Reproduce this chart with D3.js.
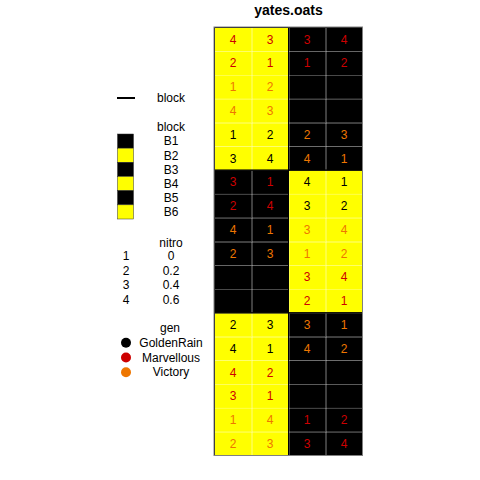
<!DOCTYPE html>
<html><head><meta charset="utf-8">
<script src="https://cdn.jsdelivr.net/npm/d3@7"></script>
<style>body{margin:0;background:#fff}svg{display:block;font-family:"Liberation Sans",Arial,sans-serif}</style>
</head><body><svg id="c" width="480" height="480"></svg>
<script>
// ---- data ----
const title = "yates.oats";
const colIds = [1, 2, 3, 4];
const rowIds = [1,2,3,4,5,6,7,8,9,10,11,12,13,14,15,16,17,18];
const blocks = ["B1", "B2", "B3", "B4", "B5", "B6"];
const blockFill = ["#000000", "#FFFF00", "#000000", "#FFFF00", "#000000", "#FFFF00"];
const genLevels = ["GoldenRain", "Marvellous", "Victory"];
const genColors = ["#000000", "#CD0000", "#EE7600"];
const nitroCodes = ["1", "2", "3", "4"];
const nitroLevels = ["0", "0.2", "0.4", "0.6"];
// per grid row (top to bottom), one entry per column
const blockByRow = [
  "B2 B2 B1 B1","B2 B2 B1 B1","B2 B2 B1 B1","B2 B2 B1 B1","B2 B2 B1 B1","B2 B2 B1 B1",
  "B3 B3 B4 B4","B3 B3 B4 B4","B3 B3 B4 B4","B3 B3 B4 B4","B3 B3 B4 B4","B3 B3 B4 B4",
  "B6 B6 B5 B5","B6 B6 B5 B5","B6 B6 B5 B5","B6 B6 B5 B5","B6 B6 B5 B5","B6 B6 B5 B5"];
const nitroByRow = [
  "4 3 3 4","2 1 1 2","1 2 1 4","4 3 2 3","1 2 2 3","3 4 4 1",
  "3 1 4 1","2 4 3 2","4 1 3 4","2 3 1 2","1 3 3 4","2 4 2 1",
  "2 3 3 1","4 1 4 2","4 2 3 1","3 1 2 4","1 4 1 2","2 3 3 4"];
const genByRow = [
  "M M M M","M M M M","V V G G","V V G G","G G V V","G G V V",
  "M M G G","M M G G","V V V V","V V V V","G G M M","G G M M",
  "G G V V","G G V V","M M G G","M M G G","V V M M","V V M M"];

// ---- build plots ----
const genIdx = {G: 0, M: 1, V: 2};
const plots = [];
rowIds.forEach((r, i) => {
  const b = blockByRow[i].split(" "), n = nitroByRow[i].split(" "), g = genByRow[i].split(" ");
  colIds.forEach((c, j) => plots.push({row: r, col: c, block: b[j], nitro: n[j], gen: genLevels[genIdx[g[j]]]}));
});

const svg = d3.select("#c");
const x = d3.scaleBand().domain(colIds).range([214.5, 362.5]);
const y = d3.scaleBand().domain(rowIds).range([27.5, 455.5]);
const fill = d3.scaleOrdinal().domain(blocks).range(blockFill);
const gcol = d3.scaleOrdinal().domain(genLevels).range(genColors);

// title
svg.append("text").attr("x", (x.range()[0] + x.range()[1]) / 2).attr("y", 15)
  .attr("text-anchor", "middle").attr("font-weight", "bold").attr("font-size", 14).text(title);

// cells
svg.append("g").selectAll("rect").data(plots).join("rect")
  .attr("x", d => x(d.col)).attr("y", d => y(d.row))
  .attr("width", x.bandwidth()).attr("height", y.bandwidth())
  .attr("fill", d => fill(d.block));

// seams (antialias gaps between cells)
const seams = svg.append("g").attr("stroke", "#fff").attr("stroke-opacity", 0.25).attr("stroke-width", 1);
colIds.slice(1).forEach(c => seams.append("line").attr("x1", Math.round(x(c)) + 0.5).attr("x2", Math.round(x(c)) + 0.5)
  .attr("y1", y.range()[0]).attr("y2", y.range()[1]));
rowIds.slice(1).forEach(r => seams.append("line").attr("y1", Math.round(y(r)) + 0.5).attr("y2", Math.round(y(r)) + 0.5)
  .attr("x1", x.range()[0]).attr("x2", x.range()[1]));

// block outlines
const bExt = blocks.map(b => {
  const p = plots.filter(d => d.block === b);
  return {b, c0: d3.min(p, d => d.col), c1: d3.max(p, d => d.col), r0: d3.min(p, d => d.row), r1: d3.max(p, d => d.row)};
});
svg.append("g").selectAll("rect").data(bExt).join("rect")
  .attr("x", d => x(d.c0)).attr("y", d => y(d.r0))
  .attr("width", d => x(d.c1) + x.bandwidth() - x(d.c0))
  .attr("height", d => y(d.r1) + y.bandwidth() - y(d.r0))
  .attr("fill", "none").attr("stroke", "#000").attr("stroke-width", 1);

// panel border
svg.append("rect").attr("x", 214).attr("y", 27).attr("width", 148.5).attr("height", 428.5)
  .attr("fill", "none").attr("stroke", "#808080").attr("stroke-width", 1);

// cell texts
svg.append("g").selectAll("text").data(plots).join("text")
  .attr("x", d => x(d.col) + x.bandwidth() / 2).attr("y", d => y(d.row) + y.bandwidth() / 2)
  .attr("dy", "0.36em").attr("text-anchor", "middle").attr("font-size", 12)
  .attr("fill", d => gcol(d.gen)).text(d => d.nitro);

// ---- legend ----
const lg = svg.append("g").attr("font-size", 12).attr("text-anchor", "middle");
const tx = 171, kx = 126;
lg.append("line").attr("x1", 117).attr("x2", 135).attr("y1", 98).attr("y2", 98).attr("stroke", "#000").attr("stroke-width", 2);
lg.append("text").attr("x", tx).attr("y", 98).attr("dy", "0.36em").text("block");

lg.append("text").attr("x", tx).attr("y", 127).attr("dy", "0.36em").text("block");
const by = d3.scaleBand().domain(blocks).range([134, 219]);
lg.selectAll("rect.bk").data(blocks).join("rect").attr("class", "bk")
  .attr("x", 117.5).attr("y", d => by(d)).attr("width", 16).attr("height", by.bandwidth()).attr("fill", d => fill(d))
  .attr("stroke", "#333").attr("stroke-width", 0.5);
lg.selectAll("text.bk").data(blocks).join("text").attr("class", "bk")
  .attr("x", tx).attr("y", d => by(d) + by.bandwidth() / 2).attr("dy", "0.36em").text(d => d);

lg.append("text").attr("x", tx).attr("y", 243).attr("dy", "0.36em").text("nitro");
const ny = d3.scaleBand().domain(nitroCodes).range([248.5, 306.5]);
lg.selectAll("text.nc").data(nitroCodes).join("text").attr("class", "nc")
  .attr("x", kx).attr("y", d => ny(d) + ny.bandwidth() / 2).attr("dy", "0.36em").text(d => d);
lg.selectAll("text.nl").data(nitroCodes).join("text").attr("class", "nl")
  .attr("x", tx).attr("y", d => ny(d) + ny.bandwidth() / 2).attr("dy", "0.36em").text((d, i) => nitroLevels[i]);

lg.append("text").attr("x", 170).attr("y", 328).attr("dy", "0.36em").text("gen");
const gy = d3.scaleBand().domain(genLevels).range([335.5, 379.5]);
lg.selectAll("circle").data(genLevels).join("circle")
  .attr("cx", kx).attr("cy", d => gy(d) + gy.bandwidth() / 2).attr("r", 5).attr("fill", d => gcol(d));
lg.selectAll("text.gn").data(genLevels).join("text").attr("class", "gn")
  .attr("x", tx).attr("y", d => gy(d) + gy.bandwidth() / 2).attr("dy", "0.36em").text(d => d);
</script></body></html>
